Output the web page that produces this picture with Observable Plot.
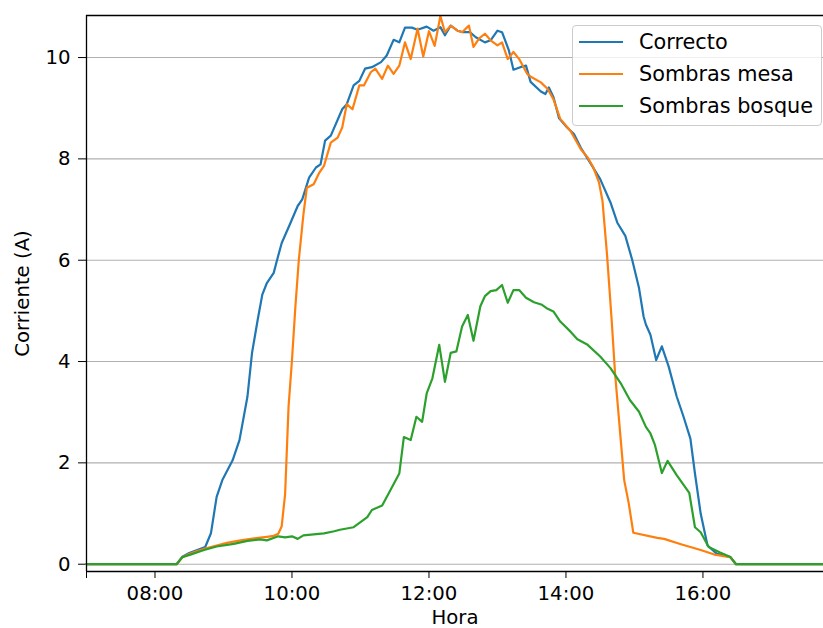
<!DOCTYPE html>
<html>
<head>
<meta charset="utf-8">
<script src="https://cdn.jsdelivr.net/npm/d3@7"></script>
<script src="https://cdn.jsdelivr.net/npm/@observablehq/plot@0.6"></script>
<style>
  html, body { margin: 0; padding: 0; background: #fff; }
  #wrap { position: relative; width: 823px; height: 628px; font-family: "DejaVu Sans", sans-serif; }
  #legend { position: absolute; left: 572px; top: 25px; width: 250px; height: 101px; box-sizing: border-box;
            border: 1px solid #cccccc; border-radius: 4px; background: rgba(255,255,255,0.8); }
  .row { position: absolute; left: 0; height: 0; }
  .sw { position: absolute; left: 6px; width: 44px; height: 2.4px; margin-top: -1.2px; }
  .lab { position: absolute; left: 66px; top: -13px; white-space: nowrap; font-size: 20.8px; line-height: 26px; color: #000; }
</style>
</head>
<body>
<div id="wrap"></div>
<script>
// ---- data ----
const seriesNames = ["Correcto", "Sombras mesa", "Sombras bosque"];
const seriesColors = ["#1f77b4", "#ff7f0e", "#2ca02c"];

const correctoHora = [
  "07:00","08:19","08:24","08:30","08:37","08:44","08:49","08:54","08:59","09:08",
  "09:14","09:21","09:25","09:30","09:34","09:38","09:44","09:47","09:51","09:58",
  "10:05","10:09","10:15","10:21","10:25","10:29","10:34","10:44","10:48","10:54",
  "10:59","11:04","11:10","11:18","11:23","11:29","11:34","11:39","11:45","11:50",
  "11:58","12:04","12:10","12:14","12:19","12:25","12:30","12:36","12:41","12:49",
  "12:54","13:00","13:04","13:10","13:14","13:20","13:25","13:29","13:38","13:42",
  "13:45","13:49","13:54","14:01","14:07","14:13","14:21","14:30","14:39","14:45",
  "14:52","14:58","15:04","15:08","15:10","15:14","15:19","15:24","15:30","15:37",
  "15:43","15:49","15:53","15:58","16:04","16:12","16:24","16:29","17:46"];
const correctoI = [
  0, 0, 0.15, 0.22, 0.28, 0.34, 0.61, 1.33, 1.66, 2.05,
  2.45, 3.31, 4.17, 4.83, 5.32, 5.55, 5.75, 6.01, 6.34, 6.70,
  7.07, 7.20, 7.63, 7.83, 7.89, 8.36, 8.46, 8.98, 9.08, 9.45,
  9.54, 9.78, 9.81, 9.91, 10.04, 10.35, 10.30, 10.59, 10.59, 10.55,
  10.61, 10.53, 10.60, 10.44, 10.63, 10.53, 10.50, 10.50, 10.40, 10.30,
  10.34, 10.53, 10.50, 10.14, 9.76, 9.81, 9.84, 9.52, 9.33, 9.28,
  9.41, 9.22, 8.80, 8.62, 8.49, 8.22, 7.93, 7.60, 7.14, 6.74,
  6.48, 6.01, 5.45, 4.89, 4.73, 4.53, 4.03, 4.30, 3.90, 3.31,
  2.91, 2.48, 1.79, 1.00, 0.37, 0.21, 0.14, 0, 0];

const mesaHora = [
  "07:00","08:19","08:24","08:30","08:37","08:44","08:54","09:03","09:15","09:24",
  "09:38","09:44","09:48","09:51","09:54","09:57","10:00","10:03","10:06","10:10",
  "10:13","10:19","10:24","10:28","10:34","10:40","10:44","10:48","10:53","10:59",
  "11:03","11:09","11:13","11:19","11:24","11:29","11:34","11:39","11:44","11:50",
  "11:55","12:00","12:05","12:10","12:14","12:19","12:25","12:29","12:35","12:39",
  "12:44","12:49","12:54","13:00","13:04","13:09","13:14","13:19","13:26","13:30",
  "13:38","13:44","13:49","13:55","14:04","14:13","14:19","14:24","14:29","14:32",
  "14:36","14:40","14:43","14:48","14:51","14:55","14:59","15:20","15:26","15:40",
  "15:58","16:10","16:24","16:29","17:46"];
const mesaI = [
  0, 0, 0.14, 0.20, 0.26, 0.31, 0.37, 0.42, 0.47, 0.50,
  0.54, 0.56, 0.60, 0.75, 1.39, 3.11, 4.03, 5.09, 6.01, 6.90,
  7.43, 7.50, 7.73, 7.86, 8.32, 8.42, 8.62, 9.08, 8.98, 9.45,
  9.45, 9.71, 9.78, 9.58, 9.84, 9.68, 9.84, 10.30, 9.97, 10.57,
  10.02, 10.52, 10.23, 10.82, 10.50, 10.63, 10.53, 10.50, 10.63, 10.21,
  10.38, 10.47, 10.34, 10.24, 10.30, 9.97, 10.11, 9.97, 9.68, 9.61,
  9.51, 9.38, 9.18, 8.79, 8.55, 8.19, 8.03, 7.83, 7.53, 7.17,
  6.10, 4.83, 3.77, 2.45, 1.66, 1.20, 0.62, 0.52, 0.50, 0.40,
  0.28, 0.19, 0.14, 0, 0];

const bosqueHora = [
  "07:00","08:19","08:24","08:31","08:43","08:54","09:09","09:21","09:32","09:38",
  "09:48","09:54","10:00","10:05","10:10","10:19","10:28","10:37","10:42","10:54",
  "11:00","11:06","11:10","11:19","11:25","11:34","11:38","11:44","11:49","11:54",
  "11:58","12:03","12:09","12:14","12:19","12:24","12:29","12:34","12:39","12:45",
  "12:49","12:54","12:59","13:04","13:09","13:14","13:19","13:25","13:32","13:39",
  "13:44","13:49","13:55","14:04","14:10","14:19","14:30","14:39","14:48","14:56",
  "15:04","15:10","15:14","15:18","15:24","15:29","15:37","15:48","15:53","15:58",
  "16:05","16:15","16:24","16:29","17:46"];
const bosqueI = [
  0, 0, 0.14, 0.19, 0.28, 0.35, 0.40, 0.46, 0.49, 0.47,
  0.55, 0.53, 0.55, 0.50, 0.57, 0.59, 0.61, 0.65, 0.68, 0.73,
  0.83, 0.93, 1.07, 1.16, 1.41, 1.79, 2.51, 2.45, 2.91, 2.81,
  3.37, 3.67, 4.33, 3.60, 4.17, 4.20, 4.69, 4.92, 4.41, 5.09,
  5.29, 5.39, 5.41, 5.51, 5.16, 5.41, 5.41, 5.26, 5.17, 5.12,
  5.04, 4.99, 4.79, 4.59, 4.44, 4.33, 4.10, 3.87, 3.57, 3.24,
  3.01, 2.71, 2.58, 2.35, 1.80, 2.04, 1.76, 1.41, 0.73, 0.63,
  0.34, 0.23, 0.14, 0, 0];

const xTickLabels = ["07:00","08:00","10:00","12:00","14:00","16:00"];
const yTickValues = [0, 2, 4, 6, 8, 10];
const xRange = ["07:00", "17:45:36"];
const yRange = [-0.144, 10.83];

// ---- build ----
const parse = s => { const p = s.split(":").map(Number); return new Date(2021, 5, 1, p[0], p[1], p[2] || 0); };
const mk = (h, v) => h.map((t, i) => ({t: parse(t), v: v[i]}));
const dC = mk(correctoHora, correctoI);
const dM = mk(mesaHora, mesaI);
const dB = mk(bosqueHora, bosqueI);
const fmt = d3.timeFormat("%H:%M");

const chart = Plot.plot({
  width: 823,
  height: 628,
  marginLeft: 86,
  marginRight: 0,
  marginTop: 15,
  marginBottom: 57,
  style: {fontFamily: "DejaVu Sans, sans-serif", fontSize: "19.7px", color: "#000", background: "#fff"},
  x: {type: "time", domain: xRange.map(parse)},
  y: {domain: yRange},
  marks: [
    Plot.gridY(yTickValues, {stroke: "#b0b0b0", strokeOpacity: 1, strokeWidth: 1.1}),
    Plot.axisY(yTickValues, {tickSize: 8, tickPadding: 8, tickFormat: d => String(d), label: "Corriente (A)", labelAnchor: "center", labelArrow: "none", labelOffset: 72, stroke: "#000"}),
    Plot.axisX(xTickLabels.map(parse), {tickSize: 7, tickPadding: 7, tickFormat: d => (fmt(d) === "07:00" ? "" : fmt(d)), label: "Hora", labelAnchor: "center", labelArrow: "none", labelOffset: 52, stroke: "#000"}),
    Plot.line(dC, {x: "t", y: "v", stroke: seriesColors[0], strokeWidth: 2.2}),
    Plot.line(dM, {x: "t", y: "v", stroke: seriesColors[1], strokeWidth: 2.2}),
    Plot.line(dB, {x: "t", y: "v", stroke: seriesColors[2], strokeWidth: 2.2}),
    Plot.ruleY([yRange[0]], {stroke: "#000", strokeWidth: 1.3}),
    Plot.ruleY([yRange[1]], {stroke: "#000", strokeWidth: 1.3}),
    Plot.ruleX([parse(xRange[0])], {stroke: "#000", strokeWidth: 1.3})
  ]
});

const wrap = document.getElementById("wrap");
wrap.appendChild(chart);

const leg = document.createElement("div");
leg.id = "legend";
seriesNames.forEach((name, i) => {
  const row = document.createElement("div");
  row.className = "row";
  row.style.top = (16 + i * 32) + "px";
  const sw = document.createElement("div");
  sw.className = "sw";
  sw.style.background = seriesColors[i];
  const lab = document.createElement("div");
  lab.className = "lab";
  lab.textContent = name;
  row.appendChild(sw);
  row.appendChild(lab);
  leg.appendChild(row);
});
wrap.appendChild(leg);
</script>
</body>
</html>
